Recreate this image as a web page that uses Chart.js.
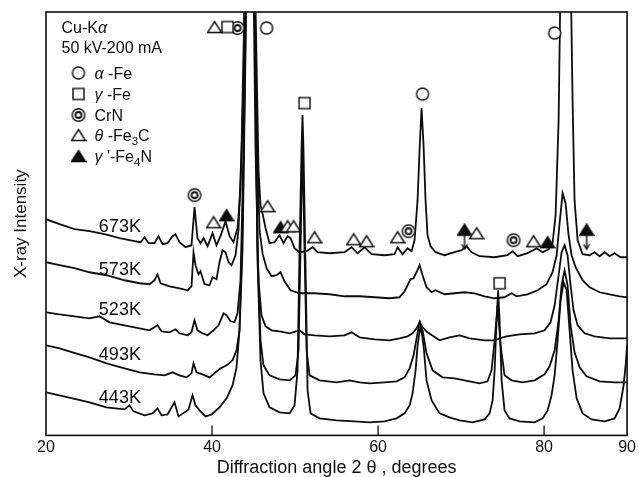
<!DOCTYPE html>
<html>
<head>
<meta charset="utf-8">
<script src="https://cdn.jsdelivr.net/npm/chart.js@4.4.0/dist/chart.umd.min.js"></script>
<style>
  body { margin: 0; background: #fff; }
  canvas { display: block; }
</style>
</head>
<body>
<canvas id="xrd" width="639" height="477"></canvas>
<script>
const FONT = '"Liberation Sans", Arial, Helvetica, sans-serif';
const INK = '#0d0d0d';

const xTicks = [20, 40, 60, 80, 90];

// [2theta (deg), intensity (arb. units)]
const trace673 = [
  [20.0,216],[21.63,211],[23.43,206],[25.24,204],[27.05,201],[28.86,197],[30.66,194],[31.39,193],[31.87,198],[32.35,192],
  [33.07,192],[33.55,199],[34.04,191],[34.64,192],[35.24,199],[35.60,201],[36.08,193],[36.81,188],[37.53,190],[37.89,228],
  [38.25,197],[38.61,192],[38.98,197],[39.46,189],[40.06,202],[40.54,190],[41.02,199],[41.63,214],[42.11,199],[42.59,193],
  [43.07,207],[43.43,245],[43.80,355],[44.04,535],[44.52,735],[45.00,535],[45.36,375],[45.60,265],[45.84,230],[46.08,222],
  [46.45,207],[46.93,192],[47.53,193],[48.13,200],[48.61,192],[49.10,199],[49.46,197],[49.94,187],[50.54,183],[51.39,184],
  [52.11,188],[52.71,183],[54.16,182],[55.96,183],[56.81,188],[57.53,182],[58.37,188],[59.22,181],[60.78,180],[61.99,181],
  [62.35,188],[62.95,181],[63.55,187],[64.04,184],[64.40,195],[64.76,235],[65.00,285],[65.24,327],[65.48,290],[65.72,235],
  [65.96,200],[66.33,189],[66.93,183],[68.01,180],[69.22,183],[70.06,185],[70.66,189],[71.27,183],[72.23,179],[74.04,178],
  [75.60,180],[76.20,184],[76.81,179],[78.01,182],[79.10,187],[79.82,183],[80.54,186],[81.02,192],[81.39,220],[81.75,315],
  [82.11,535],[82.59,735],[83.07,535],[83.43,335],[83.67,235],[84.04,195],[84.64,181],[85.48,180],[86.08,183],[86.69,179],
  [87.29,183],[87.89,179],[88.49,182],[89.22,178],[90.0,178]
];
const trace573 = [
  [20.0,173],[21.63,170],[23.43,167],[25.24,163],[27.29,160],[29.46,155],[31.27,152],[32.47,151],[33.07,155],[33.43,161],
  [33.80,152],[34.88,149],[36.08,147],[37.05,145],[37.53,149],[37.77,183],[38.01,170],[38.37,161],[38.61,164],[39.10,151],
  [39.70,150],[40.06,158],[40.54,156],[40.90,173],[41.27,185],[41.63,183],[41.99,173],[42.35,170],[42.83,180],[43.19,205],
  [43.55,285],[43.92,435],[44.28,635],[44.64,735],[45.00,535],[45.36,315],[45.72,205],[46.08,182],[46.57,167],[47.17,159],
  [47.77,160],[48.25,163],[48.73,154],[49.46,145],[50.54,142],[52.35,142],[54.16,141],[55.96,139],[57.77,139],[59.58,138],
  [61.39,137],[62.59,138],[63.19,144],[63.67,152],[63.92,156],[64.28,157],[64.64,163],[65.00,170],[65.36,160],[65.84,148],
  [66.45,143],[66.93,145],[68.01,141],[69.22,142],[70.42,143],[71.63,142],[72.83,139],[74.04,137],[75.24,138],[76.08,142],
  [76.69,139],[78.01,141],[79.22,145],[80.30,151],[81.02,163],[81.51,180],[81.87,212],[82.23,242],[82.59,232],[82.95,200],
  [83.31,180],[83.79,168],[84.64,155],[85.48,148],[86.69,143],[87.89,141],[89.10,139],[90.0,138]
];
const trace523 = [
  [20.0,123],[21.63,121],[23.43,119],[25.24,117],[26.45,119],[27.65,113],[29.46,110],[31.27,107],[32.47,105],[33.43,110],
  [33.92,104],[34.88,103],[35.60,106],[36.08,102],[37.05,100],[37.53,103],[37.89,115],[38.25,105],[38.85,102],[39.46,100],
  [40.18,105],[40.78,110],[41.39,122],[41.75,120],[42.23,114],[42.71,113],[43.07,122],[43.43,155],[43.80,285],[44.16,535],
  [44.52,735],[44.88,535],[45.24,285],[45.60,155],[45.96,120],[46.45,109],[47.17,105],[48.13,104],[49.34,102],[50.54,105],
  [51.14,101],[52.35,100],[54.16,99],[55.96,100],[56.81,103],[57.77,98],[59.58,96],[61.39,95],[62.59,97],[63.55,99],
  [64.16,102],[64.64,107],[65.00,113],[65.36,108],[65.96,103],[67.41,95],[68.61,98],[69.82,100],[71.02,97],[72.83,95],
  [74.04,95],[74.64,97],[75.48,99],[77.05,101],[78.86,102],[80.06,105],[80.78,113],[81.27,130],[81.75,160],[82.11,183],
  [82.47,190],[82.83,180],[83.19,150],[83.55,125],[84.04,110],[84.88,102],[86.08,99],[87.89,97],[90.0,97]
];
const trace493 = [
  [20.0,90],[21.63,87],[23.19,83],[25.24,78],[27.29,72],[29.46,67],[31.27,63],[33.07,61],[34.28,60],[35.24,63],
  [36.08,60],[36.93,58],[37.53,62],[37.77,72],[38.13,63],[38.85,61],[39.70,58],[40.42,63],[41.02,67],[41.75,70],
  [42.47,75],[42.95,85],[43.31,105],[43.67,185],[44.04,385],[44.40,685],[44.76,685],[45.12,435],[45.48,185],[45.84,95],
  [46.20,70],[46.93,60],[48.13,56],[49.34,55],[50.06,60],[50.42,85],[50.66,185],[50.90,295],[51.14,185],[51.39,85],
  [51.75,60],[52.95,55],[55.00,53],[56.57,55],[57.77,53],[58.98,52],[60.78,53],[62.23,54],[63.19,58],[63.80,67],
  [64.28,80],[64.64,97],[65.00,113],[65.36,105],[65.84,82],[66.57,65],[67.77,58],[69.22,57],[71.02,54],[72.23,52],
  [73.19,54],[73.67,65],[74.04,95],[74.40,130],[74.76,90],[75.24,60],[76.08,55],[77.41,53],[78.86,55],[80.06,61],
  [80.66,69],[81.27,85],[81.75,115],[82.11,150],[82.47,165],[82.83,150],[83.19,110],[83.67,83],[84.28,68],[85.12,59],
  [86.69,54],[88.49,53],[90.0,53]
];
const trace443 = [
  [20.0,43],[21.63,40],[23.19,37],[25.24,33],[27.29,28],[29.46,26],[30.06,30],[30.54,24],[31.87,20],[32.83,22],
  [33.43,27],[33.92,20],[34.64,21],[35.48,33],[35.96,19],[36.69,23],[37.17,26],[37.65,40],[38.01,30],[38.49,25],
  [39.22,19],[39.94,21],[40.90,28],[41.75,37],[42.47,50],[42.95,68],[43.31,105],[43.67,205],[44.04,405],[44.40,685],
  [44.76,685],[45.12,435],[45.48,175],[45.84,75],[46.20,42],[46.93,28],[48.13,23],[49.34,22],[49.94,30],[50.30,65],
  [50.54,185],[50.78,285],[50.90,320],[51.02,285],[51.27,165],[51.51,45],[51.87,22],[52.95,17],[55.00,15],[57.17,14],
  [58.98,13],[60.78,14],[62.23,17],[63.19,22],[63.80,30],[64.16,42],[64.52,65],[64.76,90],[65.12,110],[65.48,90],
  [65.84,55],[66.45,35],[67.41,22],[68.61,18],[69.82,15],[71.39,13],[72.83,16],[73.43,22],[73.80,35],[74.04,65],
  [74.28,115],[74.46,145],[74.64,115],[74.88,55],[75.24,25],[75.84,17],[77.05,14],[78.86,13],[79.82,17],[80.42,25],
  [80.90,40],[81.27,60],[81.63,95],[81.99,135],[82.35,153],[82.71,145],[83.07,105],[83.43,65],[83.92,37],[84.64,22],
  [85.72,16],[87.29,14],[88.49,17],[89.10,27],[89.58,50],[89.82,70],[90.0,90]
];

const temps = ['673K', '573K', '523K', '493K', '443K'];
const tempLabelAngle = 28.9;
const tempLabelY = [208, 165, 125, 80, 37];

// phase markers: [2theta, height]
const alphaFe = [[46.57,407],[65.36,341],[81.27,402]];
const gammaFe = [[41.87,408],[51.14,332],[74.64,152]];
const crN = [[43.07,407],[37.89,240],[63.67,204],[76.32,195]];
const thetaFe3C = [[40.30,408],[40.18,213],[46.69,229],[49.10,209],[49.82,209],[52.35,198],[57.05,196],[58.61,194],[62.35,198],[71.87,202],[78.73,194]];
const gammaFe4N = [[41.75,220],[48.25,208],[80.42,193]];
const gammaFe4NArrow = [[70.42,198],[85.12,198]];

function glyph(w, h, paint) {
  const c = document.createElement('canvas');
  c.width = w; c.height = h;
  const g = c.getContext('2d');
  g.strokeStyle = INK; g.fillStyle = INK; g.lineWidth = 1.4;
  paint(g);
  return c;
}
function triPath(g, top) {
  g.beginPath(); g.moveTo(8, top); g.lineTo(15, top + 11); g.lineTo(1, top + 11); g.closePath();
}
const circleGlyph = glyph(16, 16, g => {
  g.beginPath(); g.arc(8, 8, 6, 0, Math.PI * 2); g.fillStyle = '#fff'; g.fill(); g.stroke();
});
const squareGlyph = glyph(15, 15, g => {
  g.fillStyle = '#fff'; g.fillRect(2, 2, 11, 11); g.strokeRect(2, 2, 11, 11);
});
const crnGlyph = glyph(16, 16, g => {
  g.fillStyle = '#fff';
  g.beginPath(); g.arc(8, 8, 6.3, 0, Math.PI * 2); g.fill(); g.stroke();
  g.lineWidth = 1.8; g.beginPath(); g.arc(8, 8, 3, 0, Math.PI * 2); g.stroke();
});
const triGlyph = glyph(16, 14, g => { triPath(g, 1.5); g.fillStyle = '#fff'; g.fill(); g.stroke(); });
const triFillGlyph = glyph(16, 14, g => { triPath(g, 1.5); g.fill(); g.stroke(); });
const triArrowGlyph = glyph(16, 28, g => {
  triPath(g, 1); g.fill(); g.stroke();
  g.beginPath(); g.moveTo(8, 12); g.lineTo(8, 26); g.stroke();
  g.beginPath(); g.moveTo(5, 21); g.lineTo(8, 26); g.lineTo(11, 21); g.stroke();
});

const toXY = arr => arr.map(p => ({ x: p[0], y: p[1] }));

function traceSet(label, arr) {
  return {
    label, data: toXY(arr), borderColor: INK, borderWidth: 1.8,
    pointRadius: 0, tension: 0, fill: false, order: 1
  };
}
function markerSet(label, arr, style) {
  return {
    type: 'scatter', label, data: toXY(arr), pointStyle: style,
    pointRadius: 7, showLine: false, order: 0, clip: false
  };
}

const legendRows = [
  { g: circleGlyph, runs: [{ t: 'α', it: 1 }, { t: ' -Fe' }] },
  { g: squareGlyph, runs: [{ t: 'γ', it: 1 }, { t: ' -Fe' }] },
  { g: crnGlyph, runs: [{ t: 'CrN' }] },
  { g: triGlyph, runs: [{ t: 'θ', it: 1 }, { t: ' -Fe' }, { t: '3', sub: 1 }, { t: 'C' }] },
  { g: triFillGlyph, runs: [{ t: 'γ', it: 1 }, { t: " '-Fe" }, { t: '4', sub: 1 }, { t: 'N' }] }
];
const legendRowY = [61, 82, 103, 123, 144];

function drawRuns(ctx, x, y, runs, size) {
  runs.forEach(r => {
    const s = r.sub ? size * 0.72 : size;
    ctx.font = (r.it ? 'italic ' : '') + s + 'px ' + FONT;
    ctx.fillText(r.t, x, y + (r.sub ? 4 : 0));
    x += ctx.measureText(r.t).width;
  });
}

const decor = {
  id: 'decor',
  afterDraw(chart) {
    const { ctx, chartArea: a, scales: { x, y } } = chart;
    ctx.save();
    ctx.strokeStyle = INK;
    ctx.lineWidth = 1.6;
    ctx.strokeRect(a.left, a.top, a.right - a.left, a.bottom - a.top);
    ctx.lineWidth = 1.3;
    xTicks.slice(1, -1).forEach(v => {
      const px = x.getPixelForValue(v);
      ctx.beginPath(); ctx.moveTo(px, a.bottom); ctx.lineTo(px, a.bottom - 10); ctx.stroke();
    });

    ctx.fillStyle = INK;
    ctx.font = '18px ' + FONT;
    ctx.textAlign = 'center';
    ctx.textBaseline = 'middle';
    temps.forEach((t, i) => {
      ctx.fillText(t, x.getPixelForValue(tempLabelAngle), y.getPixelForValue(tempLabelY[i]));
    });

    // y title
    ctx.save();
    ctx.translate(21, (a.top + a.bottom) / 2);
    ctx.rotate(-Math.PI / 2);
    ctx.font = '17px ' + FONT;
    ctx.fillText('X-ray Intensity', 0, 0);
    ctx.restore();

    // legend block
    ctx.textAlign = 'left';
    ctx.textBaseline = 'alphabetic';
    drawRuns(ctx, a.left + 15.5, a.top + 21, [{ t: 'Cu-K' }, { t: 'α', it: 1 }], 16);
    drawRuns(ctx, a.left + 15.5, a.top + 41, [{ t: '50 kV-200 mA' }], 16);
    legendRows.forEach((row, i) => {
      const cy = a.top + legendRowY[i];
      ctx.drawImage(row.g, a.left + 32.5 - row.g.width / 2, cy - row.g.height / 2);
      drawRuns(ctx, a.left + 48.5, cy + 6, row.runs, 16);
    });
    ctx.restore();
  }
};

new Chart(document.getElementById('xrd'), {
  type: 'line',
  data: {
    datasets: [
      traceSet('673K', trace673),
      traceSet('573K', trace573),
      traceSet('523K', trace523),
      traceSet('493K', trace493),
      traceSet('443K', trace443),
      markerSet('α-Fe', alphaFe, circleGlyph),
      markerSet('γ-Fe', gammaFe, squareGlyph),
      markerSet('CrN', crN, crnGlyph),
      markerSet('θ-Fe3C', thetaFe3C, triGlyph),
      markerSet("γ'-Fe4N", gammaFe4N, triFillGlyph),
      markerSet("γ'-Fe4N ", gammaFe4NArrow, triArrowGlyph)
    ]
  },
  options: {
    responsive: false,
    devicePixelRatio: 1,
    animation: false,
    layout: { padding: { left: 46, right: 11, top: 12, bottom: 0 } },
    plugins: { legend: { display: false }, tooltip: { enabled: false } },
    scales: {
      x: {
        type: 'linear', min: 20, max: 90,
        afterBuildTicks: s => { s.ticks = xTicks.map(v => ({ value: v })); },
        grid: { display: false, drawTicks: false },
        border: { display: false },
        ticks: { color: INK, font: { family: FONT, size: 16, lineHeight: 1.1 }, padding: 3, autoSkip: false, maxRotation: 0 },
        title: {
          display: true, text: 'Diffraction angle 2 θ , degrees', color: INK,
          font: { family: FONT, size: 18, lineHeight: 1 }, padding: { top: 0, bottom: 0 }
        }
      },
      y: { display: false, min: 0, max: 423 }
    }
  },
  plugins: [decor]
});
</script>
</body>
</html>
